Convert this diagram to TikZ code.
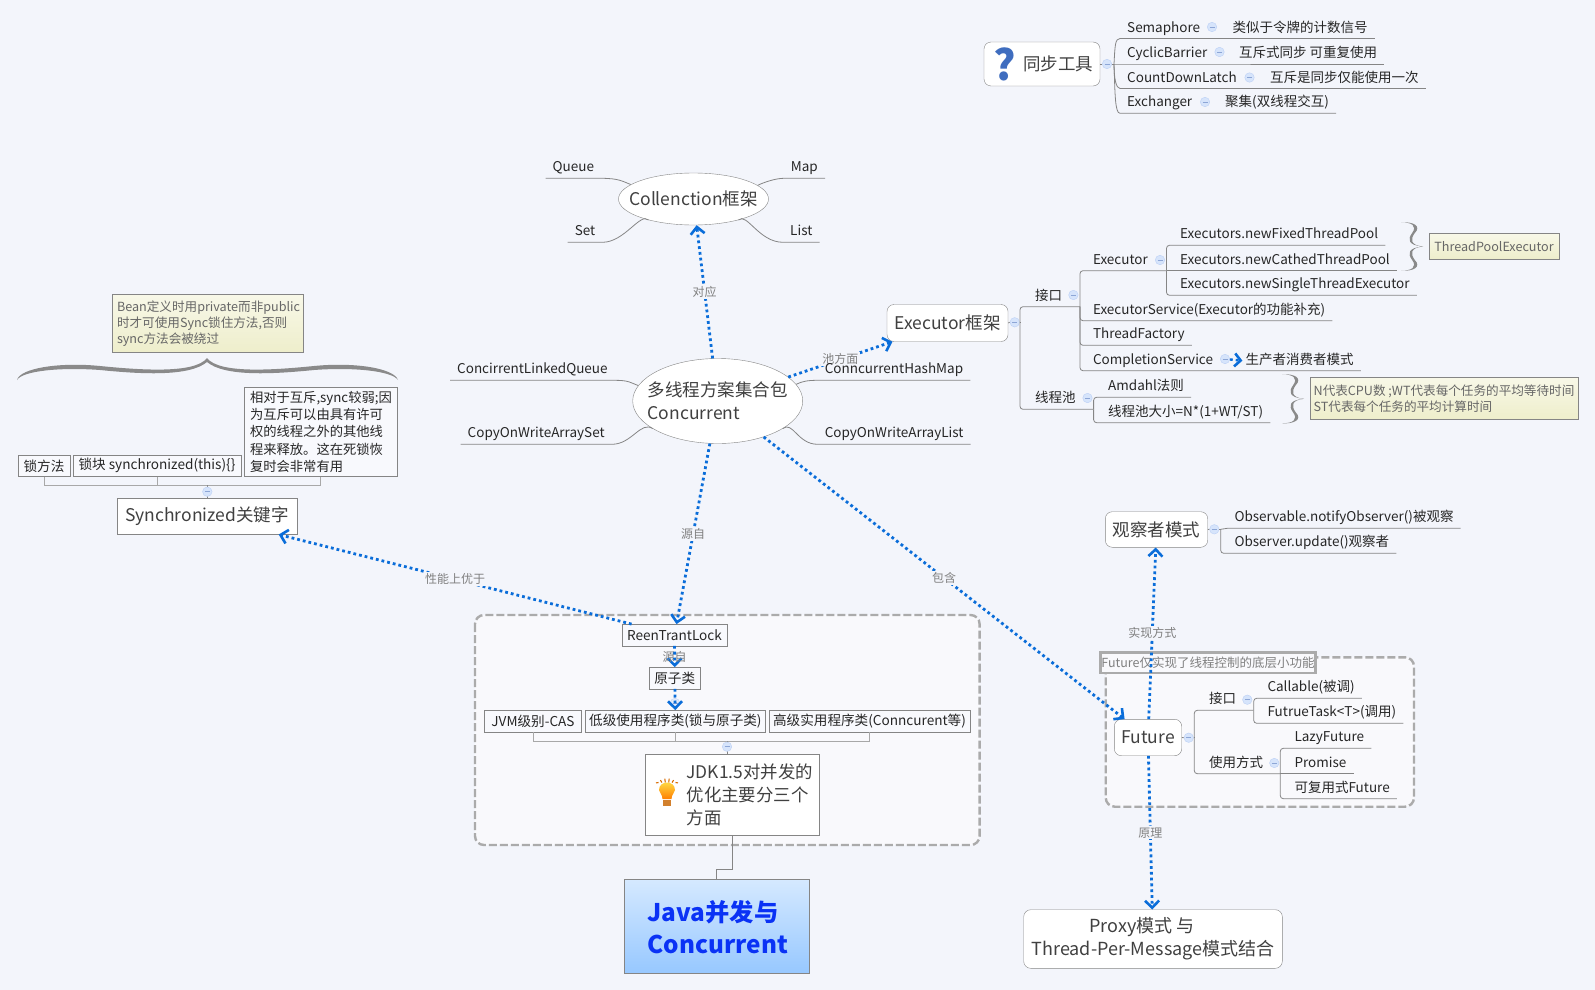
\documentclass[tikz,border=0pt]{standalone}
\usepackage{fontspec}
\setmainfont{Noto Sans CJK SC}
\usetikzlibrary{arrows.meta,shapes.geometric}
\definecolor{paper}{HTML}{F3F5FB}
\definecolor{groupfill}{HTML}{F9F9FC}
\definecolor{inkdark}{HTML}{262626}
\definecolor{inkbig}{HTML}{404040}
\definecolor{linkblue}{HTML}{0A6DD9}
\definecolor{linegray}{HTML}{858585}
\definecolor{busgray}{HTML}{A8A8A8}
\definecolor{dashgray}{HTML}{ABABAB}
\definecolor{labelgray}{HTML}{808080}
\definecolor{hubring}{HTML}{BCD0F5}
\definecolor{hubfill}{HTML}{D6E4FB}
\definecolor{hubdash}{HTML}{8DA6D6}
\definecolor{bracegray}{HTML}{8A8A8A}
\definecolor{notetop}{HTML}{F8F8E8}
\definecolor{notebottom}{HTML}{EEEECB}
\definecolor{javatop}{HTML}{D5E9FF}
\definecolor{javabottom}{HTML}{97C8FF}
\definecolor{javablue}{HTML}{0A32F5}
\definecolor{quest}{HTML}{3F6DBF}
\tikzset{
  branch/.style={draw=linegray,line width=0.8pt},
  busline/.style={draw=busgray,line width=1pt},
  relation/.style={draw=linkblue,line width=2.8pt,dash pattern=on 2.8pt off 3pt,-{Straight Barb[length=7pt,width=14pt,line width=2.6pt]}},
  linklabel/.style={midway,fill=paper,inner sep=1.5pt,text=labelgray,font=\fontsize{12}{14}\selectfont},
  leaf/.style={anchor=south west,inner xsep=7pt,inner ysep=3pt,text height=10.5pt,text depth=3.2pt,text=inkdark,font=\fontsize{13.5}{16}\selectfont},
  topic/.style={draw=linegray,fill=white,rounded corners=7pt,inner sep=0pt,text=inkbig,font=\fontsize{17.5}{23}\selectfont,align=center},
  oval/.style={ellipse,draw=linegray,fill=white,inner sep=0pt},
  ovaltext/.style={inner sep=0pt,text=inkbig,font=\fontsize{17.5}{23}\selectfont,align=left},
  plainbox/.style={draw=linegray,fill=white,inner sep=0pt,text=inkbig,font=\fontsize{17.5}{23}\selectfont},
  smallbox/.style={draw=linegray,fill=paper!60!white,inner sep=0pt,minimum height=21.4pt,text=inkdark,font=\fontsize{13.6}{17.3}\selectfont},
  tipnote/.style={draw=linegray,top color=notetop,bottom color=notebottom,inner sep=0pt,text=inkbig!80!white,font=\fontsize{12.6}{16}\selectfont,align=left},
  groupframe/.style={draw=dashgray,fill=groupfill,line width=2.4pt,dash pattern=on 8pt off 3pt,rounded corners=9pt},
  hub/.style={circle,draw=hubring,fill=hubfill,inner sep=0pt,minimum size=9.5pt,path picture={\draw[hubdash,line width=0.7pt] ([xshift=-2.5pt]path picture bounding box.center) -- ([xshift=2.5pt]path picture bounding box.center);}},
  curly/.pic={\fill[bracegray] (0,-1) .. controls (.5,-1) and (.75,-.85) .. (.5,-.55) .. controls (.3,-.3) and (.3,-.05) .. (1,0) .. controls (.3,.05) and (.3,.3) .. (.5,.55) .. controls (.75,.85) and (.5,1) .. (0,1) .. controls (.55,1.03) and (.95,.85) .. (.62,.55) .. controls (.42,.3) and (.42,.05) .. (1,0) .. controls (.42,-.05) and (.42,-.3) .. (.62,-.55) .. controls (.95,-.85) and (.55,-1.03) .. (0,-1) -- cycle;}
}
\begin{document}
\begin{tikzpicture}[x=1pt,y=-1pt]
\fill[paper] (0,0) rectangle (1595,990);
\useasboundingbox (0,0) rectangle (1595,990);

% frames behind everything
\draw[groupframe] (475,615) rectangle (979.6,845);
\draw[groupframe] (1105.7,657.3) rectangle (1414,806.7);

% sync tools
\node[topic,minimum width=116pt,minimum height=44pt] (syncTopic) at (1042,64) {};
\node[inner sep=0pt,text=quest,font=\fontsize{42}{42}\selectfont\bfseries] (syncIcon) at (1005,64) {?};
\node[inner sep=0pt,text=inkbig,font=\fontsize{17.5}{23}\selectfont] (syncText) at (1058,64) {同步工具};
\node[hub] (hubSync) at (1107,64) {};
\coordinate (jSync) at (1114,64);
\node[leaf] (semLeaf) at (1120,38.5) {Semaphore};
\node[leaf] (semNote) at (1225.5,38.5) {类似于令牌的计数信号};
\node[hub] (hubSem) at (1212,27) {};
\node[leaf] (cycLeaf) at (1120,64) {CyclicBarrier};
\node[leaf] (cycNote) at (1232,64) {互斥式同步 可重复使用};
\node[hub] (hubCyc) at (1219.5,52) {};
\node[leaf] (cntLeaf) at (1120,88.5) {CountDownLatch};
\node[leaf] (cntNote) at (1263,88.5) {互斥是同步仅能使用一次};
\node[hub] (hubCnt) at (1249.5,77.5) {};
\node[leaf] (excLeaf) at (1120,113.3) {Exchanger};
\node[leaf] (excNote) at (1218,113.3) {聚集(双线程交互)};
\node[hub] (hubExc) at (1205,102) {};
\draw[branch] (syncTopic.east) -- (hubSync.west);
\draw[branch] (hubSync.east) -- (jSync);
\draw[branch] (jSync) .. controls +(1,-18) and +(-5,0) .. (semLeaf.south west) -- (semNote.south east);
\draw[branch] (jSync) -- (cycLeaf.south west) -- (cycNote.south east);
\draw[branch] (jSync) .. controls +(0,14) and +(-4,0) .. (cntLeaf.south west) -- (cntNote.south east);
\draw[branch] (jSync) .. controls +(1,30) and +(-5,0) .. (excLeaf.south west) -- (excNote.south east);

% collection
\node[oval,minimum width=150pt,minimum height=52pt] (collection) at (693.5,199) {};
\node[ovaltext] (collectionText) at (collection) {Collenction框架};
\node[leaf] (queueLeaf) at (545.5,178.3) {Queue};
\node[leaf] (mapLeaf) at (783.7,178.3) {Map};
\node[leaf] (setLeaf) at (567.6,242.3) {Set};
\node[leaf] (listLeaf) at (783,242.3) {List};
\draw[branch] (queueLeaf.south west) -- (queueLeaf.south east) .. controls +(18,0) and +(-8,-3) .. (collection.167);
\draw[branch] (mapLeaf.south east) -- (mapLeaf.south west) .. controls +(-8,0) and +(6,-3) .. (collection.12);
\draw[branch] (setLeaf.south west) -- (setLeaf.south east) .. controls +(22,0) and +(-8,-8) .. (collection.205);
\draw[branch] (listLeaf.south east) -- (listLeaf.south west) .. controls +(-24,0) and +(8,-8) .. (collection.335);

% executor
\node[topic,minimum width=121pt,minimum height=37pt] (executor) at (947.5,323) {Executor框架};
\node[hub] (hubExecutor) at (1014.7,322.3) {};
\coordinate (jExecutor) at (1020,322.3);
\node[leaf] (ifaceLeaf) at (1028,306.7) {接口};
\node[hub] (hubIface) at (1073.4,295) {};
\coordinate (jIface) at (1080,306.7);
\node[leaf] (execLeaf) at (1085.8,270.7) {Executor};
\node[hub] (hubExec) at (1160,260) {};
\coordinate (jExec) at (1166.5,270.7);
\node[leaf] (fixedLeaf) at (1173,245.3) {Executors.newFixedThreadPool};
\node[leaf] (cathedLeaf) at (1173,270.7) {Executors.newCathedThreadPool};
\node[leaf] (singleLeaf) at (1173,295.3) {Executors.newSingleThreadExecutor};
\node[leaf] (serviceLeaf) at (1085.8,320.7) {ExecutorService(Executor的功能补充)};
\node[leaf] (factoryLeaf) at (1085.8,345.3) {ThreadFactory};
\node[leaf] (complLeaf) at (1085.8,370.7) {CompletionService};
\node[leaf] (producerLeaf) at (1238.4,370.7) {生产者消费者模式};
\node[hub] (hubCompl) at (1225,359) {};
\node[leaf] (poolLeaf) at (1028,409.3) {线程池};
\node[hub] (hubPool) at (1087.5,398) {};
\coordinate (jPool) at (1093.6,409.3);
\node[leaf] (amdahlLeaf) at (1101,397.3) {Amdahl法则};
\node[leaf] (sizeLeaf) at (1101,422.7) {线程池大小=N*(1+WT/ST)};
\draw[branch] (executor.east) -- (hubExecutor.west);
\draw[branch] (hubExecutor.east) -- (jExecutor);
\begin{scope}[rounded corners=3pt]
\draw[branch] (jExecutor) |- (ifaceLeaf.south west) -- (jIface);
\draw[branch] (jExecutor) |- (poolLeaf.south west) -- (jPool);
\draw[branch] (jIface) |- (execLeaf.south west) -- (jExec);
\draw[branch] (jIface) |- (serviceLeaf.south west) -- (serviceLeaf.south east);
\draw[branch] (jIface) |- (factoryLeaf.south west) -- (factoryLeaf.south east);
\draw[branch] (jIface) |- (complLeaf.south west) -- (producerLeaf.south east);
\draw[branch] (jExec) |- (fixedLeaf.south west) -- (fixedLeaf.south east);
\draw[branch] (jExec) -- (cathedLeaf.south west) -- (cathedLeaf.south east);
\draw[branch] (jExec) |- (singleLeaf.south west) -- (singleLeaf.south east);
\draw[branch] (jPool) |- (amdahlLeaf.south west) -- (amdahlLeaf.south east);
\draw[branch] (jPool) |- (sizeLeaf.south west) -- (sizeLeaf.south east);
\end{scope}
\draw[relation,line width=2.4pt,-{Straight Barb[length=6pt,width=13pt,line width=2.6pt]}] (hubCompl) -- ([xshift=4pt]producerLeaf.west);
\pic[xscale=22,yscale=24.2] at (1401,246.5) {curly};
\node[tipnote,minimum width=130pt,minimum height=26pt] (poolExecNote) at (1494,246.3) {ThreadPoolExecutor};
\pic[xscale=22,yscale=24.5] at (1282,398.8) {curly};
\node[tipnote,minimum width=268pt,minimum height=42pt] (formulaNote) at (1444,398.3) {N代表CPU数 ;WT代表每个任务的平均等待时间\\ST代表每个任务的平均计算时间};

% synchronized
\node[smallbox,minimum width=51.4pt,minimum height=21pt] (lockMethod) at (44,465.8) {锁方法};
\node[smallbox,minimum width=167.4pt,minimum height=21pt] (lockBlock) at (157,465.8) {锁块 synchronized(this)\{\}};
\node[smallbox,inner xsep=5.7pt,text width=141pt,minimum height=89pt,align=left,font=\fontsize{13.3}{17.3}\selectfont] (compareNote) at (320.5,431.8) {相对于互斥,sync较弱;因\\为互斥可以由具有许可\\权的线程之外的其他线\\程来释放。这在死锁恢\\复时会非常有用};
\node[plainbox,minimum width=179.4pt,minimum height=36pt] (syncKey) at (207,516.3) {Synchronized关键字};
\coordinate (jKey) at (207,485.3);
\draw[busline] (lockMethod.south) |- (jKey);
\draw[busline] (lockBlock.south) |- (jKey);
\draw[busline] (compareNote.south) |- (jKey);
\draw[branch] (syncKey.north) -- (jKey);
\node[hub] (hubKey) at (207.3,491.7) {};
\node[tipnote,inner xsep=4.7pt,text width=181pt,minimum height=58pt] (beanNote) at (207.5,323.3) {Bean定义时用private而非public\\时才可使用Sync锁住方法,否则\\sync方法会被绕过};
\fill[bracegray] (17,380) .. controls (20,368) and (60,362) .. (100,366) .. controls (140,370) and (195,374) .. (207,358) .. controls (219,374) and (274,370) .. (314,366) .. controls (354,362) and (394,368) .. (398,380) .. controls (392,371) and (354,367) .. (314,370) .. controls (274,374) and (225,377) .. (207,362) .. controls (189,377) and (140,374) .. (100,370) .. controls (60,367) and (22,371) .. (17,380) -- cycle;

% jdk group
\node[smallbox,minimum width=105pt] (lockBox) at (674.5,635) {ReenTrantLock};
\node[smallbox,minimum width=51.5pt] (atomBox) at (674.75,678) {原子类};
\node[smallbox,minimum width=97.3pt] (jvmBox) at (533,721) {JVM级别-CAS};
\node[smallbox,minimum width=180pt] (lowBox) at (675.35,721) {低级使用程序类(锁与原子类)};
\node[smallbox,minimum width=201pt] (highBox) at (869.5,721) {高级实用程序类(Conncurent等)};
\node[plainbox,minimum width=174.5pt,minimum height=81.6pt] (jdkBox) at (732.25,794.5) {};
\node[anchor=west,inner sep=0pt,align=left,text=inkbig,font=\fontsize{17.4}{23}\selectfont] (jdkText) at (686.4,795) {JDK1.5对并发的\\优化主要分三个\\方面};
\coordinate (jJdk) at (727,741);
\draw[busline] (jvmBox.south) |- (jJdk);
\draw[busline] (lowBox.south) |- (jJdk);
\draw[busline] (highBox.south) |- (jJdk);
\draw[branch] (jJdk) -- (jdkBox.north -| jJdk);
\node[hub] (hubJdk) at (727,746.7) {};
% bulb
\begin{scope}[shift={(667,793)}]
\foreach \a in {-2.5,-1.5,-.5,.5,1.5,2.5} {
  \draw[orange!85!black,line width=1.1pt] (\a*3.4,-10.5) -- (\a*4.4,-14.5+\a*\a*.7);
}
\shade[top color=yellow!70!orange!70!white,bottom color=orange] (-4.5,6) .. controls (-4.5,1) and (-8,0) .. (-8,-3) .. controls (-8,-13) and (8,-13) .. (8,-3) .. controls (8,0) and (4.5,1) .. (4.5,6) -- cycle;
\fill[brown!70!orange] (-4,7) rectangle (4,13);
\end{scope}
\node[draw=linegray,inner sep=0pt,minimum width=184.5pt,minimum height=94pt,top color=javatop,bottom color=javabottom] (javaBox) at (716.75,926.3) {};
\node[anchor=west,inner sep=0pt,align=left,text=javablue,font=\fontsize{24.3}{32.3}\selectfont\bfseries] (javaText) at (647.5,927) {Java并发与\\Concurrent};
\draw[branch] (jdkBox.south) -- ++(0,34) -| (javaBox.north);

% future group
\node[draw=dashgray,line width=2.5pt,fill=groupfill,inner sep=0pt,minimum width=215pt,minimum height=20.5pt,text=labelgray,font=\fontsize{12.5}{16}\selectfont] (futureTitle) at (1208,662.5) {Future仅实现了线程控制的底层小功能};
\node[topic,minimum width=67.4pt,minimum height=36.4pt] (future) at (1148,737.5) {Future};
\node[hub] (hubFuture) at (1188.7,737.7) {};
\coordinate (jFuture) at (1194.3,737.7);
\node[leaf] (fuIface) at (1202,710.3) {接口};
\node[hub] (hubFuIface) at (1247.3,699.7) {};
\coordinate (jFuIface) at (1253.7,710.3);
\node[leaf] (callLeaf) at (1260.3,698.3) {Callable(被调)};
\node[leaf] (taskLeaf) at (1260.3,723.3) {FutrueTask<T>(调用)};
\node[leaf] (fuUse) at (1202,773.7) {使用方式};
\node[hub] (hubFuUse) at (1274.3,763) {};
\coordinate (jFuUse) at (1280.3,773.7);
\node[leaf] (lazyLeaf) at (1287.3,748.3) {LazyFuture};
\node[leaf] (promiseLeaf) at (1287.3,773.7) {Promise};
\node[leaf] (reuseLeaf) at (1287.3,798.7) {可复用式Future};
\draw[branch] (future.east) -- (hubFuture.west);
\draw[branch] (hubFuture.east) -- (jFuture);
\begin{scope}[rounded corners=3pt]
\draw[branch] (jFuture) |- (fuIface.south west) -- (jFuIface);
\draw[branch] (jFuture) |- (fuUse.south west) -- (jFuUse);
\draw[branch] (jFuIface) |- (callLeaf.south west) -- (callLeaf.south east);
\draw[branch] (jFuIface) |- (taskLeaf.south west) -- (taskLeaf.south east);
\draw[branch] (jFuUse) |- (lazyLeaf.south west) -- (lazyLeaf.south east);
\draw[branch] (jFuUse) -- (promiseLeaf.south west) -- (promiseLeaf.south east);
\draw[branch] (jFuUse) |- (reuseLeaf.south west) -- (reuseLeaf.south east);
\end{scope}

% observer and proxy
\node[topic,minimum width=102.4pt,minimum height=35.6pt] (observer) at (1156.5,529.5) {观察者模式};
\node[hub] (hubObserver) at (1214.3,529.3) {};
\coordinate (jObserver) at (1220.7,529.3);
\node[leaf] (notifyLeaf) at (1227.3,528.3) {Observable.notifyObserver()被观察};
\node[leaf] (updateLeaf) at (1227.3,553.3) {Observer.update()观察者};
\draw[branch] (observer.east) -- (hubObserver.west);
\draw[branch] (hubObserver.east) -- (jObserver);
\draw[branch] (jObserver) -- (notifyLeaf.south west) -- (notifyLeaf.south east);
\draw[branch,rounded corners=3pt] (jObserver) |- (updateLeaf.south west) -- (updateLeaf.south east);
\node[topic,minimum width=258.6pt,minimum height=58.6pt,font=\fontsize{18}{23}\selectfont] (proxy) at (1153,939) {Proxy模式 与\hspace*{22pt}\\Thread-Per-Message模式结合};

% centre
\node[oval,minimum width=170pt,minimum height=85pt] (concurrent) at (717.7,401) {};
\node[ovaltext] (concurrentText) at (concurrent) {多线程方案集合包\\Concurrent};
\draw[relation] (concurrent) -- node[linklabel] (lblExecutor) {池方面} (executor);
\node[leaf] (linkedLeaf) at (450,380.3) {ConcirrentLinkedQueue};
\node[leaf] (cowSetLeaf) at (460.5,444.3) {CopyOnWriteArraySet};
\node[leaf] (hashLeaf) at (817.6,380.3) {ConncurrentHashMap};
\node[leaf] (cowListLeaf) at (817.6,444.3) {CopyOnWriteArrayList};
\draw[branch] (linkedLeaf.south west) -- (linkedLeaf.south east) .. controls +(14,0) and +(-8,-3) .. (concurrent.169);
\draw[branch] (cowSetLeaf.south west) -- (cowSetLeaf.south east) .. controls +(20,0) and +(-12,-8) .. (concurrent.203);
\draw[branch] (hashLeaf.south east) -- (hashLeaf.south west) .. controls +(-10,0) and +(6,-3) .. (concurrent.12);
\draw[branch] (cowListLeaf.south east) -- (cowListLeaf.south west) .. controls +(-20,0) and +(10,-8) .. (concurrent.337);

% relations
\draw[relation] (concurrent) -- node[linklabel] (lblCollection) {对应} (collection);
\draw[relation] (concurrent) -- node[linklabel] (lblLock) {源自} (lockBox);
\draw[relation] (concurrent) -- node[linklabel] (lblFuture) {包含} (future);
\draw[relation] (lockBox) -- node[linklabel] (lblSync) {性能上优于} (syncKey);
\draw[relation] (lockBox) -- node[linklabel,fill=none] (lblAtom) {源自} (atomBox);
\node[hub,fill opacity=.6] (hubAtom) at (675,703) {};
\draw[relation] (atomBox) -- (lowBox);
\draw[relation] (future) -- node[linklabel] (lblObserver) {实现方式} (observer);
\draw[relation] (future) -- node[linklabel] (lblProxy) {原理} (proxy);
\end{tikzpicture}
\end{document}
